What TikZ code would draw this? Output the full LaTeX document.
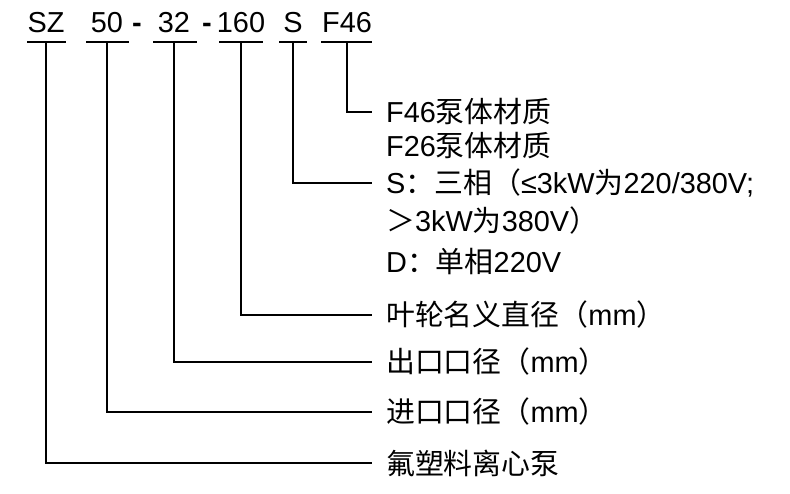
\documentclass[tikz,border=0pt]{standalone}
\usepackage{fontspec}
\setmainfont{Liberation Sans}
\newfontfamily\cjk{Noto Sans CJK SC}
\begin{document}
\begin{tikzpicture}[x=1bp,y=-1bp,
 every node/.style={inner sep=0pt,font=\fontsize{29}{31}\selectfont},
 codepart/.style={anchor=base},
 lbl/.style={anchor=west},
 lead/.style={line width=2.4pt}]
\useasboundingbox (0,0) rectangle (790,494);
% model code
\node[codepart] (sz)  at (46,33)  {SZ};
\node[codepart] (d50) at (107,33) {50};
\node[codepart] (m1)  at (137,33) {\textbf{-}};
\node[codepart] (d32) at (174,33) {32};
\node[codepart] (m2)  at (207,33) {\textbf{-}};
\node[codepart] (d160) at (241,33) {160};
\node[codepart] (s)   at (293,33) {S};
\node[codepart] (f46) at (347,33) {F46};
% underlines
\foreach \a/\b in {27/66,86/129,153/197,219/263,279/307,321/372}
  \draw[lead] (\a,42) -- (\b,42);
% labels
\node[lbl] (tf46) at (386,112) {F46{\cjk 泵体材质}};
\node[lbl] (tf26) at (386,146) {F26{\cjk 泵体材质}};
\node[lbl] (ts)   at (386,183) {S{\cjk ：三相（}≤3kW{\cjk 为}220/380V;};
\node[lbl] (ts2)  at (386,221) {{\cjk ＞}3kW{\cjk 为}380V{\cjk ）}};
\node[lbl] (td)   at (386,262) {D{\cjk ：单相}220V};
\node[lbl] (tdia) at (386,315) {{\cjk 叶轮名义直径（}mm{\cjk ）}};
\node[lbl] (tout) at (386,362) {{\cjk 出口口径（}mm{\cjk ）}};
\node[lbl] (tin)  at (386,412) {{\cjk 进口口径（}mm{\cjk ）}};
\node[lbl] (tname) at (386,463) {{\cjk 氟塑料离心泵}};
% leaders
\draw[lead] (347,42) |- (372,112);
\draw[lead] (293,42) |- (372,183);
\draw[lead] (241,42) |- (372,315);
\draw[lead] (174,42) |- (372,362);
\draw[lead] (107,42) |- (372,412);
\draw[lead] (46,42)  |- (372,463);
\end{tikzpicture}
\end{document}
